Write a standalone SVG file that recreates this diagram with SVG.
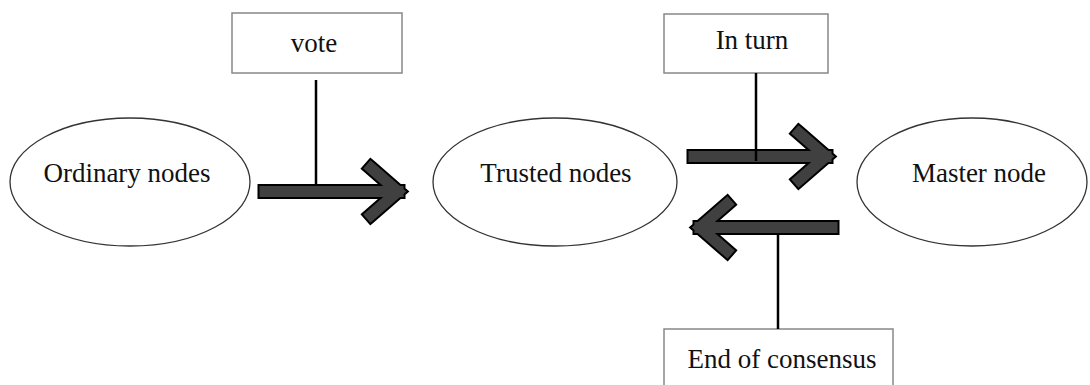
<svg xmlns="http://www.w3.org/2000/svg" width="1090" height="385" viewBox="0 0 1090 385">
<style>
.node ellipse{fill:#fff;stroke:#333;stroke-width:1.3}
.box rect{fill:#fff;stroke:#888;stroke-width:1.5}
text{font-family:"Liberation Serif","Times New Roman",serif;font-size:27px;fill:#111}
.out{fill:none;stroke:#000;stroke-width:15;stroke-linecap:square;stroke-linejoin:miter;stroke-miterlimit:10}
.in{fill:none;stroke:#404040;stroke-width:11;stroke-linecap:square;stroke-linejoin:miter;stroke-miterlimit:10}
.lead{stroke:#000;stroke-width:2.5;fill:none}
</style>
<rect width="1090" height="385" fill="#fff"/>
<g id="ordinary" class="node"><ellipse cx="130" cy="182" rx="120" ry="64"/><text x="127" y="182" text-anchor="middle">Ordinary nodes</text></g>
<g id="trusted" class="node"><ellipse cx="555" cy="182" rx="122" ry="64"/><text x="556" y="182" text-anchor="middle">Trusted nodes</text></g>
<g id="master" class="node"><ellipse cx="972" cy="182" rx="115" ry="64"/><text x="979" y="182" text-anchor="middle">Master node</text></g>
<g id="vote" class="box"><rect x="232" y="13" width="170" height="60"/><text x="314" y="52" text-anchor="middle">vote</text></g>
<g id="inturn" class="box"><rect x="664" y="14" width="164" height="59"/><text x="752" y="49" text-anchor="middle">In turn</text></g>
<g id="endconsensus" class="box"><rect x="664" y="329" width="229" height="70"/><text x="782" y="368" text-anchor="middle">End of consensus</text></g>
<g id="connectors">
<g class="out">
<path d="M265 191.5H398M371 168L398 191.5L371 215"/>
<path d="M694 156.5H826M799 133L826 156.5L799 180"/>
<path d="M832 227.5H700M727 204L700 227.5L727 251"/>
</g>
<g class="in">
<path d="M265 191.5H398M371 168L398 191.5L371 215"/>
<path d="M694 156.5H826M799 133L826 156.5L799 180"/>
<path d="M832 227.5H700M727 204L700 227.5L727 251"/>
</g>
<path class="lead" d="M316 80V185"/>
<path class="lead" d="M756 73V161"/>
<path class="lead" d="M778 234V329"/>
</g>
</svg>
